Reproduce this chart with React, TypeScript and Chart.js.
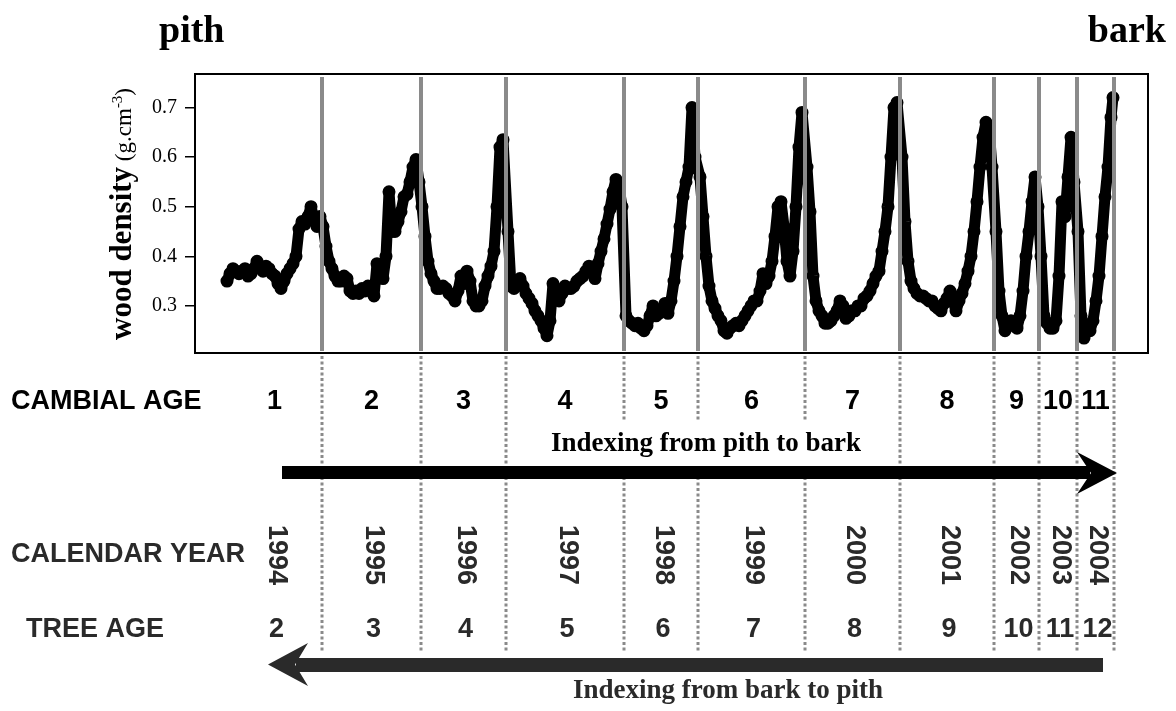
import React, { useEffect, useRef } from "react";
import { Chart, registerables } from "chart.js";

Chart.register(...registerables);

// distance along the radius (mm from the first measurement near the pith)
const positionMm = [
  0.0, 0.3, 0.6, 0.9, 1.2, 1.5, 1.8, 2.1, 2.4, 2.7, 3.0, 3.3, 3.6, 3.9, 4.2, 4.5, 4.8, 5.1, 5.4, 5.7, 6.0, 6.3, 6.6, 6.9, 7.2, 7.5, 7.8, 8.1, 8.4, 8.7, 9.0, 9.3,
  9.6, 9.9, 10.2, 10.5, 10.8, 11.1, 11.4, 11.7, 12.0, 12.3, 12.6, 12.9, 13.2, 13.5, 13.8, 14.1, 14.4, 14.7, 15.0, 15.3, 15.6, 15.9, 16.2, 16.5, 16.8, 17.1, 17.4, 17.7, 18.0, 18.3, 18.6, 18.9, 19.2,
  19.5, 19.8, 20.1, 20.4, 20.7, 21.0, 21.3, 21.6, 21.9, 22.2, 22.5, 22.8, 23.1, 23.4, 23.7, 24.0, 24.3, 24.6, 24.9, 25.2, 25.5, 25.8, 26.1, 26.4, 26.7, 27.0, 27.3, 27.6,
  28.1, 28.4, 28.7, 29.0, 29.3, 29.6, 29.9, 30.2, 30.5, 30.8, 31.1, 31.4, 31.7, 32.0, 32.3, 32.6, 32.9, 33.2, 33.5, 33.8, 34.1, 34.4, 34.7, 35.0, 35.3, 35.6, 35.9, 36.2, 36.5, 36.8, 37.1, 37.4, 37.7, 38.0, 38.3, 38.6, 38.9, 39.2, 39.5,
  39.9, 40.2, 40.5, 40.8, 41.1, 41.4, 41.7, 42.0, 42.3, 42.6, 42.9, 43.2, 43.5, 43.8, 44.1, 44.4, 44.7, 45.0, 45.3, 45.6, 45.9, 46.2, 46.5, 46.8,
  47.3, 47.6, 47.9, 48.2, 48.5, 48.8, 49.1, 49.4, 49.7, 50.0, 50.3, 50.6, 50.9, 51.2, 51.5, 51.8, 52.1, 52.4, 52.7, 53.0, 53.3, 53.6, 53.9, 54.2, 54.5, 54.8, 55.1, 55.4, 55.7, 56.0, 56.3, 56.6, 56.9, 57.2, 57.5,
  58.0, 58.3, 58.6, 58.9, 59.2, 59.5, 59.8, 60.1, 60.4, 60.7, 61.0, 61.3, 61.6, 61.9, 62.2, 62.5, 62.8, 63.1, 63.4, 63.7, 64.0, 64.3, 64.6, 64.9, 65.2, 65.5, 65.8, 66.1, 66.4, 66.7, 67.0,
  67.5, 67.8, 68.1, 68.4, 68.7, 69.0, 69.3, 69.6, 69.9, 70.2, 70.5, 70.8, 71.1, 71.4, 71.7, 72.0, 72.3, 72.6, 72.9, 73.2, 73.5, 73.8, 74.1, 74.4, 74.7, 75.0, 75.3, 75.6, 75.9, 76.2, 76.5,
  76.9, 77.2, 77.5, 77.8, 78.1, 78.4, 78.7, 79.0, 79.3, 79.6, 79.9, 80.2, 80.5, 80.8, 81.1,
  81.4, 81.7, 82.0, 82.3, 82.6, 82.9, 83.2, 83.5, 83.8, 84.1, 84.4, 84.7,
  85.1, 85.4, 85.7, 86.0, 86.3, 86.6, 86.9, 87.2, 87.5, 87.8, 88.1, 88.4, 88.6,
];

// wood density (g.cm-3)
const density = [
  0.35, 0.365, 0.375, 0.37, 0.365, 0.37, 0.375, 0.36, 0.365, 0.375, 0.39, 0.38, 0.37, 0.38, 0.375, 0.365, 0.36, 0.345, 0.335, 0.35, 0.365, 0.375, 0.385, 0.40, 0.455, 0.47, 0.465, 0.48, 0.50, 0.475, 0.46, 0.48,
  0.46, 0.42, 0.39, 0.375, 0.36, 0.35, 0.35, 0.36, 0.355, 0.33, 0.325, 0.33, 0.325, 0.335, 0.33, 0.34, 0.335, 0.32, 0.385, 0.37, 0.355, 0.40, 0.53, 0.45, 0.45, 0.47, 0.49, 0.52, 0.525, 0.55, 0.58, 0.595, 0.55,
  0.50, 0.44, 0.39, 0.365, 0.35, 0.335, 0.335, 0.34, 0.335, 0.325, 0.32, 0.31, 0.33, 0.36, 0.345, 0.37, 0.35, 0.31, 0.30, 0.30, 0.31, 0.34, 0.36, 0.38, 0.41, 0.50, 0.62, 0.635,
  0.45, 0.34, 0.335, 0.35, 0.355, 0.34, 0.325, 0.315, 0.305, 0.29, 0.28, 0.27, 0.255, 0.24, 0.27, 0.345, 0.33, 0.31, 0.325, 0.34, 0.335, 0.335, 0.34, 0.35, 0.355, 0.36, 0.37, 0.38, 0.37, 0.355, 0.385, 0.41, 0.435, 0.465, 0.495, 0.53, 0.555, 0.54, 0.50,
  0.28, 0.27, 0.265, 0.26, 0.265, 0.255, 0.25, 0.26, 0.28, 0.30, 0.28, 0.285, 0.29, 0.305, 0.285, 0.31, 0.35, 0.40, 0.46, 0.52, 0.55, 0.58, 0.70, 0.60,
  0.56, 0.48, 0.40, 0.34, 0.31, 0.295, 0.28, 0.27, 0.25, 0.245, 0.255, 0.26, 0.265, 0.26, 0.27, 0.28, 0.29, 0.30, 0.31, 0.31, 0.33, 0.365, 0.345, 0.36, 0.39, 0.44, 0.50, 0.51, 0.46, 0.39, 0.36, 0.41, 0.50, 0.62, 0.69,
  0.58, 0.49, 0.36, 0.31, 0.29, 0.28, 0.265, 0.265, 0.27, 0.28, 0.29, 0.31, 0.30, 0.275, 0.28, 0.29, 0.29, 0.30, 0.30, 0.315, 0.32, 0.33, 0.345, 0.36, 0.37, 0.41, 0.45, 0.50, 0.60, 0.70, 0.71,
  0.60, 0.47, 0.39, 0.35, 0.335, 0.325, 0.32, 0.32, 0.315, 0.31, 0.31, 0.30, 0.295, 0.29, 0.305, 0.315, 0.33, 0.31, 0.29, 0.31, 0.325, 0.345, 0.37, 0.40, 0.45, 0.51, 0.58, 0.64, 0.67, 0.66, 0.58,
  0.45, 0.33, 0.28, 0.25, 0.26, 0.27, 0.26, 0.255, 0.28, 0.33, 0.40, 0.45, 0.51, 0.56, 0.50,
  0.40, 0.28, 0.265, 0.255, 0.255, 0.27, 0.36, 0.51, 0.48, 0.56, 0.64, 0.55,
  0.45, 0.28, 0.235, 0.26, 0.25, 0.27, 0.31, 0.36, 0.44, 0.52, 0.58, 0.68, 0.72,
];

const profileStartMm = 0;
const ringBoundariesMm = [9.5, 19.4, 27.9, 39.7, 47.1, 57.8, 67.3, 76.7, 81.2, 85.0, 88.7];
const cambialAges = ["1", "2", "3", "4", "5", "6", "7", "8", "9", "10", "11"];
const calendarYears = ["1994", "1995", "1996", "1997", "1998", "1999", "2000", "2001", "2002", "2003", "2004"];
const treeAges = ["2", "3", "4", "5", "6", "7", "8", "9", "10", "11", "12"];
const yTicks = [0.3, 0.4, 0.5, 0.6, 0.7];

const SANS = '"Liberation Sans", Arial, sans-serif';
const SERIF = '"Liberation Serif", "Times New Roman", serif';

const annotations = {
  id: "annotations",
  afterDatasetsDraw(chart: any) {
    const { ctx, chartArea: a, scales } = chart;
    const x = scales.x;
    ctx.save();
    ctx.strokeStyle = "#8a8a8a";
    ctx.lineWidth = 4;
    for (const b of ringBoundariesMm) {
      const px = Math.round(x.getPixelForValue(b));
      ctx.beginPath();
      ctx.moveTo(px, a.top + 3);
      ctx.lineTo(px, a.bottom - 2);
      ctx.stroke();
    }
    ctx.strokeStyle = "#000";
    ctx.lineWidth = 2;
    ctx.strokeRect(a.left, a.top, a.right - a.left, a.bottom - a.top);
    ctx.restore();
  },
  afterDraw(chart: any) {
    const { ctx, chartArea: a, scales } = chart;
    const x = scales.x;
    const edges = [profileStartMm, ...ringBoundariesMm];
    const mids = cambialAges.map((_, i) => x.getPixelForValue((edges[i] + edges[i + 1]) / 2));
    ctx.save();

    // pith / bark
    ctx.fillStyle = "#000";
    ctx.textBaseline = "alphabetic";
    ctx.font = `bold 38px ${SERIF}`;
    ctx.textAlign = "left";
    ctx.fillText("pith", 159, 42);
    ctx.textAlign = "right";
    ctx.fillText("bark", 1166, 42);

    // y axis title
    ctx.save();
    ctx.translate(131, 340);
    ctx.rotate(-Math.PI / 2);
    ctx.textAlign = "left";
    ctx.font = `bold 31px ${SERIF}`;
    ctx.fillText("wood density", 0, 0);
    let w = ctx.measureText("wood density").width;
    ctx.font = `23px ${SERIF}`;
    ctx.fillText(" (g.cm", w, 0);
    w += ctx.measureText(" (g.cm").width;
    ctx.font = `15px ${SERIF}`;
    ctx.fillText("-3", w, -9);
    w += ctx.measureText("-3").width;
    ctx.font = `23px ${SERIF}`;
    ctx.fillText(")", w, 0);
    ctx.restore();

    // dotted ring boundaries below the plot
    ctx.strokeStyle = "#8a8a8a";
    ctx.lineWidth = 3;
    ctx.setLineDash([3, 2.5]);
    for (const b of ringBoundariesMm) {
      const px = Math.round(x.getPixelForValue(b));
      ctx.beginPath();
      ctx.moveTo(px, a.bottom + 3);
      ctx.lineTo(px, 653);
      ctx.stroke();
    }
    ctx.setLineDash([]);

    // CAMBIAL AGE row
    ctx.font = `bold 27px ${SANS}`;
    ctx.fillStyle = "#000";
    ctx.textAlign = "left";
    ctx.fillText("CAMBIAL AGE", 11, 409);
    ctx.textAlign = "center";
    cambialAges.forEach((t, i) => ctx.fillText(t, mids[i], 409));

    // Indexing from pith to bark
    ctx.font = `bold 27px ${SERIF}`;
    const t1 = "Indexing from pith to bark";
    const tw1 = ctx.measureText(t1).width;
    ctx.fillStyle = "#fff";
    ctx.fillRect(706 - tw1 / 2 - 8, 421, tw1 + 16, 44);
    ctx.fillStyle = "#000";
    ctx.fillText(t1, 706, 451);

    // upper arrow (pith -> bark)
    ctx.fillStyle = "#000";
    ctx.fillRect(282, 466, 1090 - 282, 13);
    ctx.beginPath();
    ctx.moveTo(1117, 473);
    ctx.lineTo(1077, 452);
    ctx.lineTo(1091, 473);
    ctx.lineTo(1077, 494);
    ctx.closePath();
    ctx.fill();

    // CALENDAR YEAR row
    ctx.fillStyle = "#2a2a2a";
    ctx.font = `bold 27px ${SANS}`;
    ctx.textAlign = "left";
    ctx.fillText("CALENDAR YEAR", 11, 562);
    calendarYears.forEach((t, i) => {
      ctx.save();
      ctx.translate(mids[i] + 3, 555);
      ctx.rotate(Math.PI / 2);
      ctx.textAlign = "center";
      ctx.textBaseline = "middle";
      ctx.fillText(t, 0, 1);
      ctx.restore();
    });

    // TREE AGE row
    ctx.textAlign = "left";
    ctx.fillText("TREE AGE", 26, 637);
    ctx.textAlign = "center";
    treeAges.forEach((t, i) => ctx.fillText(t, mids[i] + 2, 637));

    // lower arrow (bark -> pith)
    ctx.fillStyle = "#2a2a2a";
    ctx.fillRect(296, 658, 1103 - 296, 14);
    ctx.beginPath();
    ctx.moveTo(268, 664.5);
    ctx.lineTo(308, 643);
    ctx.lineTo(295, 664.5);
    ctx.lineTo(308, 686);
    ctx.closePath();
    ctx.fill();

    ctx.font = `bold 27px ${SERIF}`;
    ctx.textAlign = "center";
    ctx.fillText("Indexing from bark to pith", 728, 698);

    ctx.restore();
  },
};

export default function App() {
  const canvasRef = useRef<HTMLCanvasElement | null>(null);

  useEffect(() => {
    const canvas = canvasRef.current;
    if (!canvas) return;
    const points = positionMm.map((p, i) => ({ x: p, y: density[i] }));
    const chart = new Chart(canvas, {
      type: "line",
      data: {
        datasets: [
          {
            data: points,
            borderColor: "#000",
            borderWidth: 11,
            borderJoinStyle: "round",
            borderCapStyle: "round",
            pointRadius: 0,
            tension: 0,
          },
          {
            data: points,
            borderColor: "#000",
            borderWidth: 1.5,
            pointRadius: 5.5,
            pointBorderWidth: 2,
            pointBorderColor: "#000",
            pointBackgroundColor: "rgba(0,0,0,0)",
            tension: 0,
          },
        ],
      },
      options: {
        animation: false,
        responsive: false,
        devicePixelRatio: 1,
        events: [],
        layout: { padding: { left: 0, top: 74, right: 28, bottom: 358 } },
        plugins: { legend: { display: false }, tooltip: { enabled: false } },
        scales: {
          x: { type: "linear", display: false, min: -3.2, max: 92.1 },
          y: {
            type: "linear",
            min: 0.205,
            max: 0.7675,
            afterBuildTicks: (s: any) => {
              s.ticks = yTicks.map((v) => ({ value: v }));
            },
            afterFit: (s: any) => {
              s.width = 195;
            },
            border: { display: false },
            grid: { drawOnChartArea: false, color: "#000", lineWidth: 1.5, tickLength: 10 },
            ticks: {
              color: "#000",
              padding: 8,
              font: { family: SERIF, size: 20 },
              callback: (v: any) => Number(v).toFixed(1),
            },
          },
        },
      },
      plugins: [annotations],
    } as any);
    return () => chart.destroy();
  }, []);

  return (
    <div style={{ position: "absolute", left: 0, top: 0, width: 1176, height: 711, background: "#fff" }}>
      <canvas ref={canvasRef} width={1176} height={711} style={{ display: "block" }} />
    </div>
  );
}
